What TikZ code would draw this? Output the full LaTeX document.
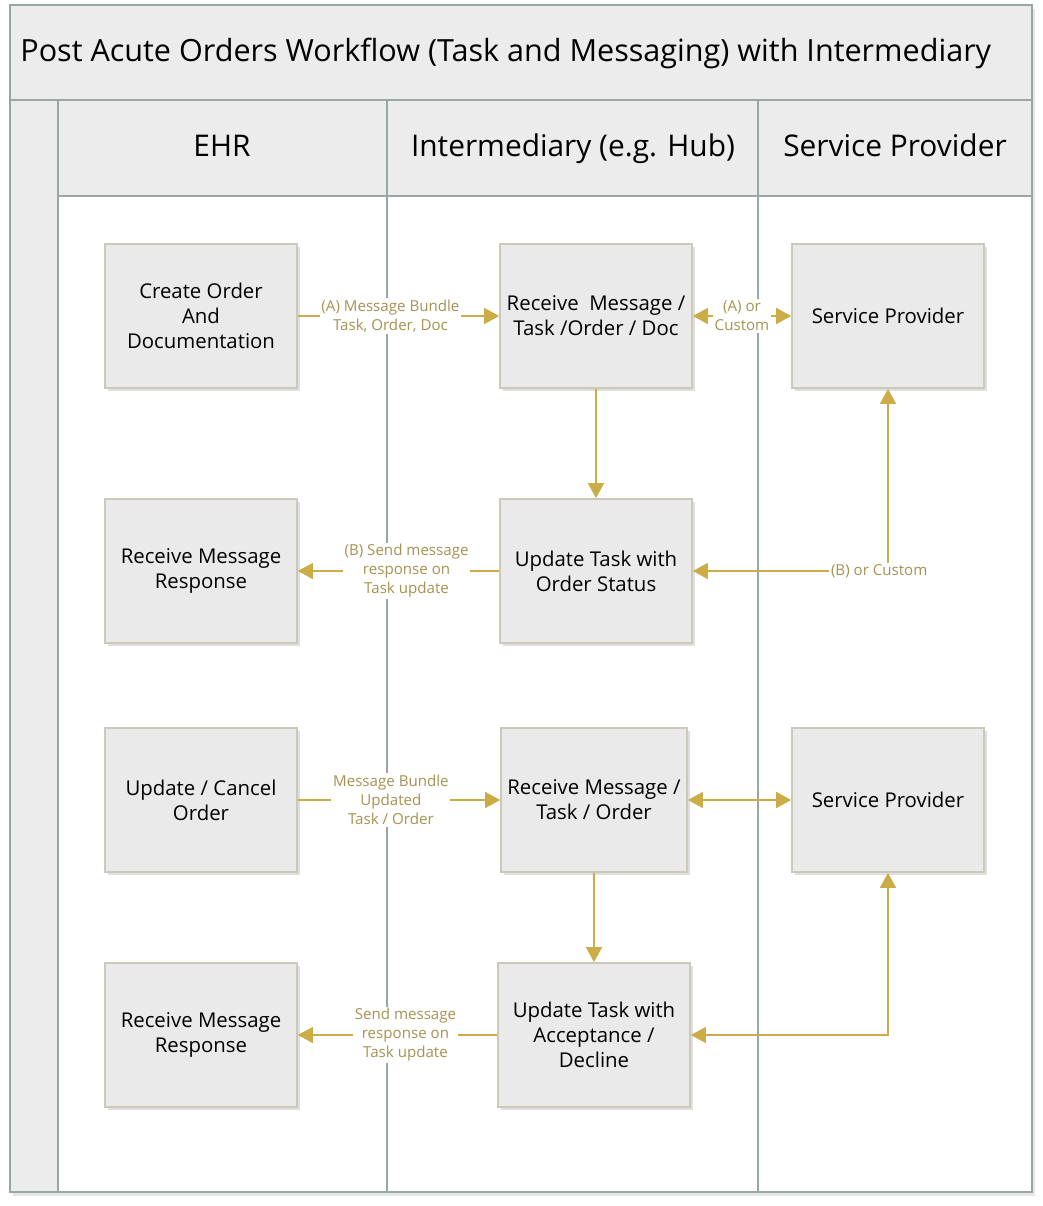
\documentclass[tikz,border=0pt]{standalone}
\usepackage{fontspec}
\setmainfont{Open Sans}
\usetikzlibrary{arrows.meta,shadows}
\definecolor{lanegray}{RGB}{152,166,166}
\definecolor{headfill}{RGB}{236,236,236}
\definecolor{boxfill}{RGB}{235,234,234}
\definecolor{boxline}{RGB}{204,200,186}
\definecolor{flowgold}{RGB}{203,172,70}
\definecolor{labelgold}{RGB}{166,146,82}
\tikzset{>={Triangle[length=0.3cm,width=0.32cm]},
  lanerect/.style={draw=lanegray,line width=1.1pt,fill=headfill},
  lanetitle/.style={anchor=base,font=\fontsize{17}{20}\selectfont},
  taskbox/.style={draw=boxline,line width=1pt,fill=boxfill,minimum width=3.84cm,
    minimum height=2.88cm,align=center,font=\fontsize{11.6}{14.2}\selectfont,
    drop shadow={shadow xshift=1.5pt,shadow yshift=-1.5pt,opacity=0.25}},
  flow/.style={draw=flowgold,line width=0.8pt},
  flowlabel/.style={fill=white,text=labelgold,align=center,inner sep=1pt,
    font=\fontsize{8.6}{10.8}\selectfont}}

\begin{document}
\begin{tikzpicture}[x=0.02cm,y=-0.02cm]
  \useasboundingbox (0,0) rectangle (1042,1206);
  \fill[white,drop shadow={shadow xshift=1.5pt,shadow yshift=-2pt,opacity=0.2}]
    (10,5) rectangle (1032,1192);
  \draw[lanerect] (10,5) rectangle (1032,100);
  \draw[lanerect] (10,100) rectangle (58,1192);
  \draw[lanerect] (58,100) rectangle (387,196);
  \draw[lanerect] (387,100) rectangle (758,196);
  \draw[lanerect] (758,100) rectangle (1032,196);
  \foreach \x in {387,758} {
      \draw[draw=lanegray,line width=1.1pt] (\x,196) -- (\x,1192);
    }
  \draw[draw=lanegray,line width=1.1pt] (58,1192) -- (1032,1192) -- (1032,196);
  \node[anchor=base west,inner sep=0pt,font=\fontsize{17.4}{20}\selectfont] (title) at (20,62)
    {Post Acute Orders Workflow (Task and Messaging) with Intermediary};
  \node[lanetitle] (ehr) at (222,157) {EHR};
  \node[lanetitle] (hub) at (573,157) {Intermediary (e.g. Hub)};
  \node[lanetitle] (prov) at (895,157) {Service Provider};

  \node[taskbox] (create) at (201,316) {Create Order\\And\\Documentation};
  \node[taskbox] (recvA) at (596,316) {Receive~~Message /\\Task /Order / Doc};
  \node[taskbox] (spA) at (888,316) {Service Provider};
  \node[taskbox] (respA) at (201,571) {Receive Message\\Response};
  \node[taskbox] (updA) at (596,571) {Update Task with\\Order Status};
  \node[taskbox] (cancel) at (201,800) {Update / Cancel\\Order};
  \node[taskbox,minimum width=3.72cm] (recvB) at (594,800) {Receive Message /\\Task / Order};
  \node[taskbox] (spB) at (888,800) {Service Provider};
  \node[taskbox] (respB) at (201,1035) {Receive Message\\Response};
  \node[taskbox] (updB) at (594,1035) {Update Task with\\Acceptance /\\Decline};

  \draw[flow,->] (create) -- node[flowlabel,pos=0.46] {(A) Message Bundle\\Task, Order, Doc} (recvA);
  \draw[flow,<->] (recvA) -- node[flowlabel] {(A) or\\Custom} (spA);
  \draw[flow,->] (recvA) -- (updA);
  \draw[flow,->] (updA) -- node[flowlabel,pos=0.46] {(B) Send message\\response on\\Task update} (respA);
  \draw[flow,<->] (updA.east) -| node[flowlabel,pos=0.5,xshift=-5] {(B) or Custom} (spA.south);
  \draw[flow,->] (cancel) -- node[flowlabel,pos=0.46] {Message Bundle\\Updated\\Task / Order} (recvB);
  \draw[flow,<->] (recvB) -- (spB);
  \draw[flow,->] (recvB) -- (updB);
  \draw[flow,->] (updB) -- node[flowlabel,pos=0.46] {Send message\\response on\\Task update} (respB);
  \draw[flow,<->] (updB.east) -| (spB.south);
\end{tikzpicture}
\end{document}
